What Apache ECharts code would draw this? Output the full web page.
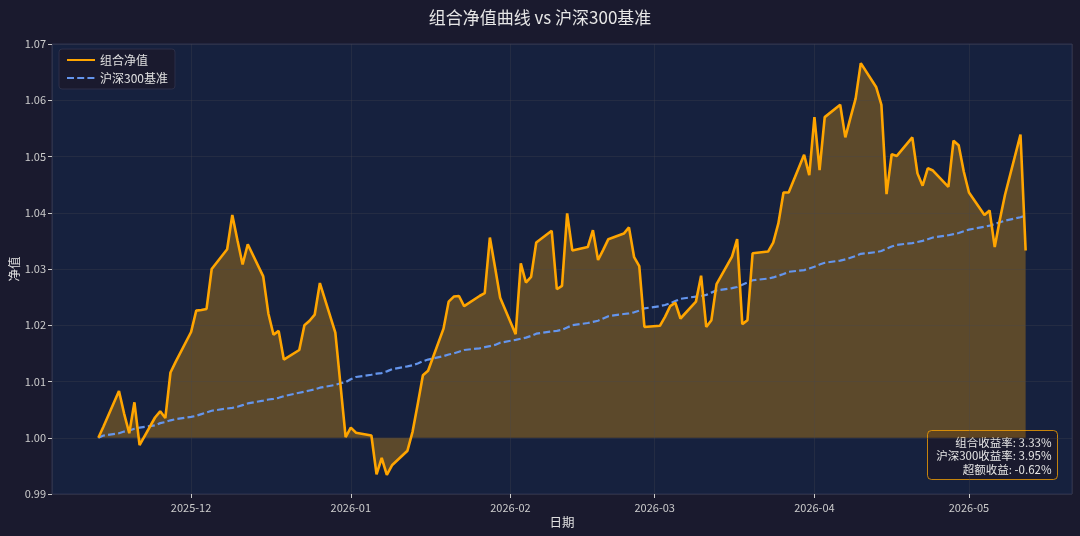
<!DOCTYPE html>
<html>
<head>
<meta charset="utf-8">
<script src="https://cdn.jsdelivr.net/npm/echarts@6/dist/echarts.min.js"></script>
<style>
html, body { margin: 0; padding: 0; background: #1a1a2e; }
#main { width: 1080px; height: 536px; }
</style>
</head>
<body>
<div id="main"></div>
<script>
// 交易日区间（工作日）
var startDate = '2025-11-13';
var endDate = '2026-05-12';

// 组合净值，按周分行
var portfolio = [
  1.0000, 1.0020,
  1.0083, 1.0043, 1.0008, 1.0063, 0.9987,
  1.0036, 1.0047, 1.0035, 1.0116, 1.0135,
  1.0188, 1.0226, 1.0227, 1.0229, 1.0300,
  1.0335, 1.0396, 1.0351, 1.0308, 1.0344,
  1.0287, 1.0221, 1.0183, 1.0190, 1.0139,
  1.0156, 1.0200, 1.0208, 1.0219, 1.0275,
  1.0187, 1.0094, 1.0001, 1.0018, 1.0009,
  1.0004, 0.9935, 0.9964, 0.9934, 0.9951,
  0.9977, 1.0011, 1.0060, 1.0111, 1.0119,
  1.0194, 1.0242, 1.0251, 1.0252, 1.0234,
  1.0252, 1.0257, 1.0356, 1.0303, 1.0249,
  1.0184, 1.0310, 1.0276, 1.0286, 1.0347,
  1.0368, 1.0264, 1.0270, 1.0399, 1.0333,
  1.0339, 1.0369, 1.0316, 1.0334, 1.0353,
  1.0363, 1.0374, 1.0321, 1.0305, 1.0197,
  1.0199, 1.0215, 1.0234, 1.0240, 1.0212,
  1.0242, 1.0288, 1.0197, 1.0209, 1.0273,
  1.0322, 1.0353, 1.0202, 1.0209, 1.0328,
  1.0331, 1.0347, 1.0381, 1.0436, 1.0436,
  1.0503, 1.0467, 1.0570, 1.0476, 1.0570,
  1.0592, 1.0534, 1.0569, 1.0603, 1.0666,
  1.0623, 1.0592, 1.0433, 1.0504, 1.0501,
  1.0534, 1.0470, 1.0448, 1.0479, 1.0475,
  1.0446, 1.0528, 1.0520, 1.0473, 1.0436,
  1.0396, 1.0404, 1.0339, 1.0388, 1.0432,
  1.0539, 1.0333
];

// 沪深300基准
var benchmark = [
  1.0000, 1.0004,
  1.0008, 1.0011, 1.0013, 1.0016, 1.0018,
  1.0022, 1.0026, 1.0028, 1.0031, 1.0033,
  1.0037, 1.0039, 1.0042, 1.0045, 1.0048,
  1.0052, 1.0053, 1.0055, 1.0058, 1.0061,
  1.0066, 1.0068, 1.0069, 1.0071, 1.0074,
  1.0080, 1.0082, 1.0084, 1.0086, 1.0089,
  1.0094, 1.0097, 1.0099, 1.0104, 1.0108,
  1.0112, 1.0114, 1.0115, 1.0118, 1.0122,
  1.0127, 1.0129, 1.0132, 1.0136, 1.0139,
  1.0145, 1.0148, 1.0150, 1.0153, 1.0156,
  1.0159, 1.0161, 1.0163, 1.0165, 1.0169,
  1.0174, 1.0176, 1.0178, 1.0181, 1.0185,
  1.0189, 1.0190, 1.0192, 1.0196, 1.0200,
  1.0204, 1.0206, 1.0208, 1.0212, 1.0216,
  1.0220, 1.0221, 1.0223, 1.0226, 1.0230,
  1.0234, 1.0236, 1.0239, 1.0243, 1.0247,
  1.0251, 1.0252, 1.0254, 1.0258, 1.0262,
  1.0266, 1.0268, 1.0272, 1.0276, 1.0280,
  1.0283, 1.0285, 1.0288, 1.0291, 1.0295,
  1.0298, 1.0301, 1.0304, 1.0308, 1.0311,
  1.0315, 1.0317, 1.0320, 1.0323, 1.0327,
  1.0330, 1.0332, 1.0336, 1.0340, 1.0343,
  1.0346, 1.0348, 1.0350, 1.0353, 1.0356,
  1.0360, 1.0362, 1.0364, 1.0367, 1.0370,
  1.0375, 1.0377, 1.0380, 1.0383, 1.0386,
  1.0392, 1.0395
];

// 坐标轴范围
var xMin = '2025-11-04';
var xMax = '2026-05-21';
var yMin = 0.99;
var yMax = 1.07;
var yStep = 0.01;

var FONT = "'Noto Sans CJK SC', 'DejaVu Sans', sans-serif";

function pad(n) { return n < 10 ? '0' + n : '' + n; }
function businessDays(s, e) {
    var out = [];
    var d = new Date(s + 'T00:00:00');
    var end = new Date(e + 'T00:00:00');
    while (d <= end) {
        var w = d.getDay();
        if (w !== 0 && w !== 6) {
            out.push(d.getFullYear() + '-' + pad(d.getMonth() + 1) + '-' + pad(d.getDate()));
        }
        d.setDate(d.getDate() + 1);
    }
    return out;
}

var dates = businessDays(startDate, endDate);
var pfData = dates.map(function (d, i) { return [d, portfolio[i]]; });
var bmData = dates.map(function (d, i) { return [d, benchmark[i]]; });

var pfRet = (portfolio[portfolio.length - 1] / portfolio[0] - 1) * 100;
var bmRet = (benchmark[benchmark.length - 1] / benchmark[0] - 1) * 100;
var excess = pfRet - bmRet;
var statText = '组合收益率: ' + pfRet.toFixed(2) + '%\n' +
               '沪深300收益率: ' + bmRet.toFixed(2) + '%\n' +
               '超额收益: ' + excess.toFixed(2) + '%';

var gridLine = { show: true, lineStyle: { color: 'rgba(70,70,80,0.3)', width: 1 } };

var chart = echarts.init(document.getElementById('main'));
var option = {
    backgroundColor: '#1a1a2e',
    animation: false,
    textStyle: { fontFamily: FONT },
    title: {
        text: '组合净值曲线 vs 沪深300基准',
        left: 'center',
        top: 4,
        textStyle: { color: '#e6e6e6', fontSize: 17, fontWeight: 'normal', fontFamily: FONT }
    },
    legend: {
        data: ['组合净值', '沪深300基准'],
        orient: 'vertical',
        left: 59,
        top: 49,
        padding: [5, 7, 5, 7],
        itemGap: 6,
        itemWidth: 28,
        itemHeight: 10,
        backgroundColor: '#1a1a2e',
        borderColor: '#2c2f48',
        borderWidth: 1,
        borderRadius: 3,
        itemStyle: { opacity: 0 },
        textStyle: { color: '#e0e0e0', fontSize: 12, fontFamily: FONT }
    },
    grid: {
        left: 52,
        right: 8,
        top: 44,
        bottom: 42,
        outerBoundsMode: 'none',
        containLabel: false,
        show: true,
        backgroundColor: '#16213e',
        borderColor: '#2c3250',
        borderWidth: 1
    },
    xAxis: {
        type: 'time',
        min: xMin,
        max: xMax,
        minInterval: 28 * 86400000,
        maxInterval: 31 * 86400000,
        name: '日期',
        nameLocation: 'middle',
        nameGap: 22,
        nameMoveOverlap: false,
        nameTextStyle: { color: '#e0e0e0', fontSize: 12.5 },
        axisLine: { show: false },
        axisTick: { show: true, length: 4, lineStyle: { color: '#cccccc' } },
        axisLabel: {
            color: '#cccccc',
            fontSize: 11,
            margin: 8,
            formatter: function (v) {
                return echarts.time.format(v, '{yyyy}-{MM}', false);
            }
        },
        splitLine: gridLine,
        z: 2
    },
    yAxis: {
        type: 'value',
        min: yMin,
        max: yMax,
        interval: yStep,
        name: '净值',
        nameLocation: 'middle',
        nameGap: 31,
        nameMoveOverlap: false,
        nameTextStyle: { color: '#e0e0e0', fontSize: 12.5 },
        axisLine: { show: false },
        axisTick: { show: true, length: 4, lineStyle: { color: '#cccccc' } },
        axisLabel: {
            color: '#cccccc',
            fontSize: 11,
            margin: 6,
            formatter: function (v) { return v.toFixed(2); }
        },
        splitLine: gridLine,
        z: 2
    },
    series: [
        {
            name: '_fill',
            type: 'line',
            data: pfData,
            symbol: 'none',
            silent: true,
            z: 1,
            lineStyle: { width: 0, opacity: 0 },
            areaStyle: { origin: 1, color: 'rgba(255,165,0,0.3)', opacity: 1 }
        },
        {
            name: '沪深300基准',
            type: 'line',
            data: bmData,
            symbol: 'none',
            z: 3,
            lineStyle: { color: '#6495ED', width: 2.2, type: [7, 3.2] },
            itemStyle: { color: '#6495ED' }
        },
        {
            name: '组合净值',
            type: 'line',
            data: pfData,
            symbol: 'none',
            z: 4,
            lineStyle: { color: '#FFA500', width: 2.6 },
            itemStyle: { color: '#FFA500' }
        }
    ],
    graphic: [
        {
            type: 'group',
            left: 927,
            top: 430,
            children: [
                {
                    type: 'rect',
                    shape: { x: 0, y: 0, width: 130, height: 49, r: 4 },
                    style: { fill: '#1a1a2e', stroke: 'rgba(255,165,0,0.75)', lineWidth: 1 }
                },
                {
                    type: 'text',
                    x: 124,
                    y: 5,
                    style: {
                        text: statText,
                        fill: '#e6e6e6',
                        font: '11.5px ' + FONT,
                        align: 'right',
                        verticalAlign: 'top',
                        lineHeight: 13.5
                    }
                }
            ]
        }
    ]
};
chart.setOption(option);
</script>
</body>
</html>
